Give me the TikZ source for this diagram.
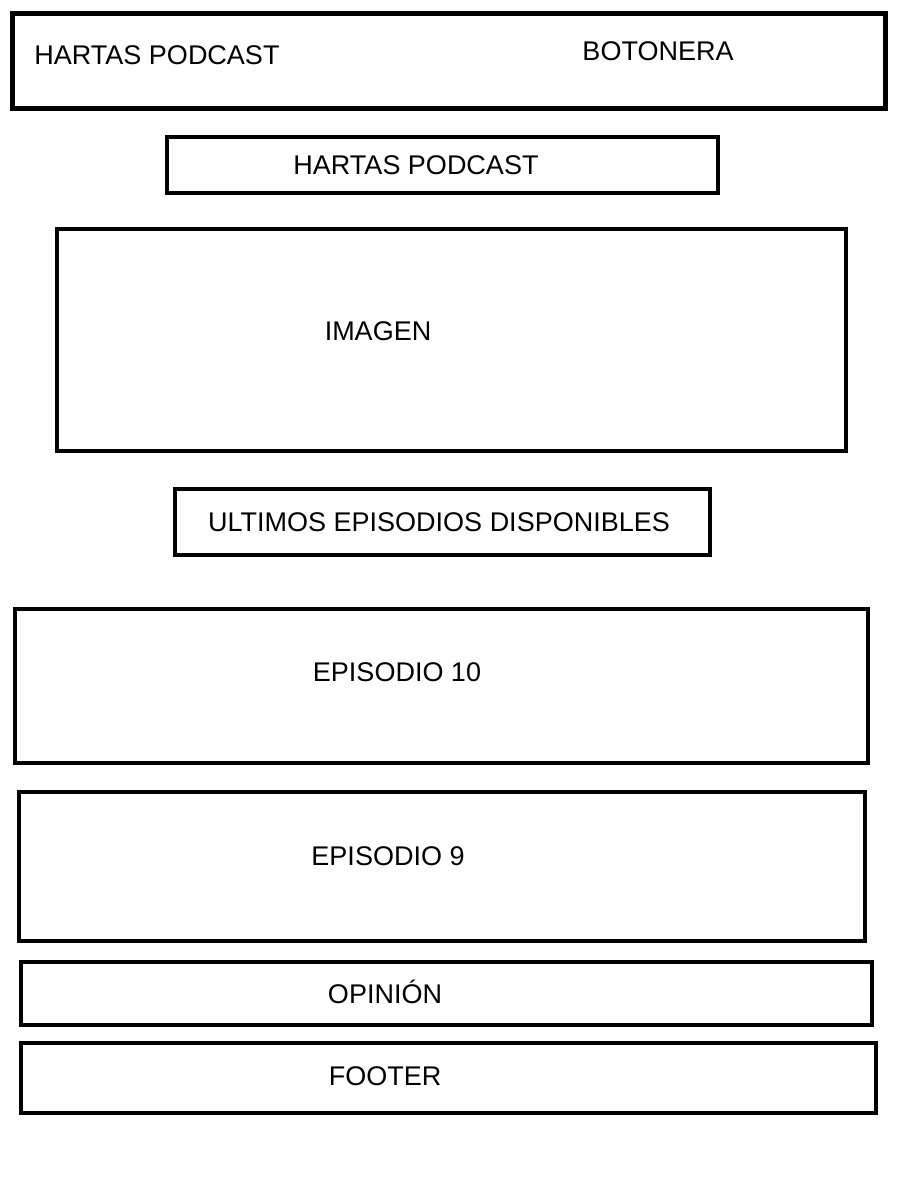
\documentclass[tikz,border=0pt]{standalone}
\usepackage{fontspec}
\setmainfont{Liberation Sans}

\begin{document}
\begin{tikzpicture}
    [
    x=1pt,y=-1pt,
    caja/.style={rectangle,draw,line width=4.5pt,inner sep=0pt},
    texto/.style={anchor=base,inner sep=0pt,font=\fontsize{27}{32}\selectfont}
    ]
    \useasboundingbox (0,0) rectangle (900,1190);
    \node (cabecera) at (449,61) [caja,minimum width=873pt,minimum height=95pt] {};
    \node (titulo) at (442.5,165) [caja,minimum width=551pt,minimum height=56pt] {};
    \node (imagen) at (451.5,340) [caja,minimum width=789pt,minimum height=222pt] {};
    \node (ultimos) at (442.5,522) [caja,minimum width=535pt,minimum height=66pt] {};
    \node (ep10) at (441.5,686) [caja,minimum width=853pt,minimum height=154pt] {};
    \node (ep9) at (442,866.5) [caja,minimum width=846pt,minimum height=149pt] {};
    \node (opinion) at (446.5,993.5) [caja,minimum width=851pt,minimum height=63pt] {};
    \node (footer) at (448.5,1078) [caja,minimum width=855pt,minimum height=70pt] {};
    \node (t-logo) at (157,65) [texto] {HARTAS PODCAST};
    \node (t-botonera) at (658,61) [texto] {BOTONERA};
    \node (t-titulo) at (416,175) [texto] {HARTAS PODCAST};
    \node (t-imagen) at (378,340) [texto] {IMAGEN};
    \node (t-ultimos) at (439,531) [texto] {ULTIMOS EPISODIOS DISPONIBLES};
    \node (t-ep10) at (397,681) [texto] {EPISODIO 10};
    \node (t-ep9) at (388,865) [texto] {EPISODIO 9};
    \node (t-opinion) at (385,1003) [texto] {OPINIÓN};
    \node (t-footer) at (385,1085) [texto] {FOOTER};
  \end{tikzpicture}
\end{document}
